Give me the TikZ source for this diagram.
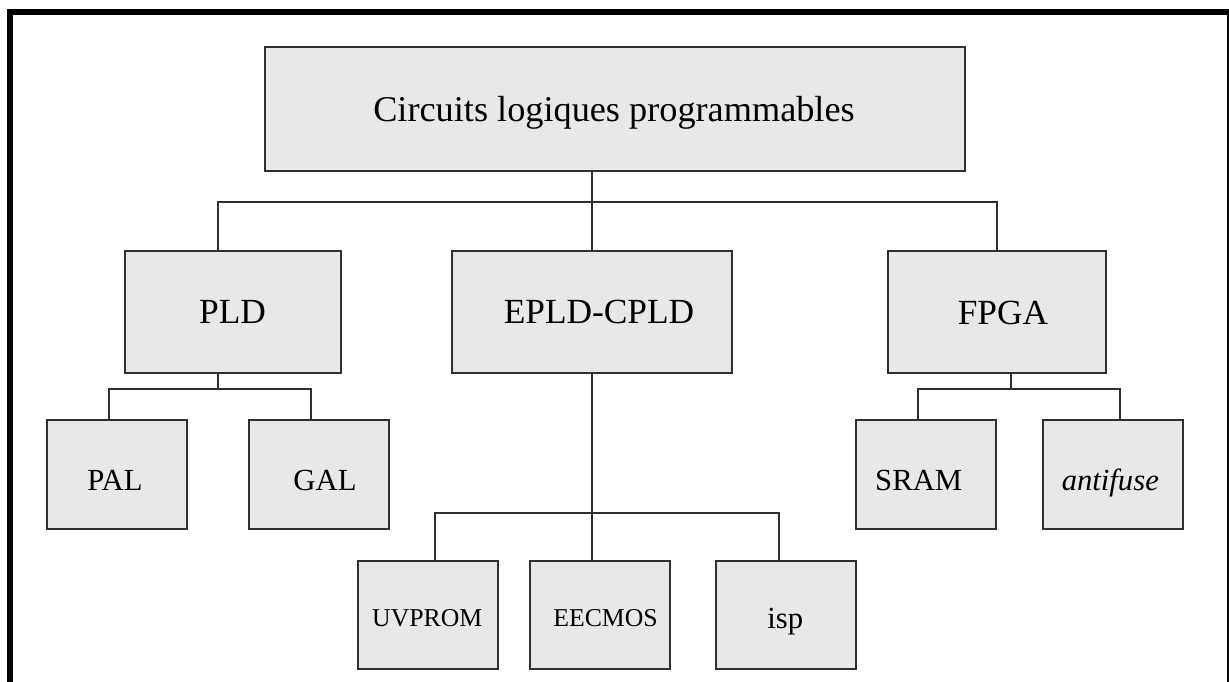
\documentclass[tikz,border=0pt]{standalone}
\usepackage{fontspec}
\setmainfont{Liberation Serif}
\usetikzlibrary{calc}
\definecolor{boxfill}{HTML}{E8E8E8}
\definecolor{edge}{HTML}{303030}
\begin{document}
\begin{tikzpicture}[x=0.75pt,y=-0.75pt,
  box/.style={draw=edge, fill=boxfill, line width=1.5pt, inner sep=0pt},
  size/.style 2 args={minimum width=#1*0.75pt, minimum height=#2*0.75pt},
  wire/.style={draw=edge, line width=1.5pt},
  toptxt/.style={inner sep=0pt, anchor=base, font=\fontsize{27.2}{31}\selectfont},
  bigtxt/.style={inner sep=0pt, anchor=base, font=\fontsize{26.5}{30}\selectfont},
  midtxt/.style={inner sep=0pt, anchor=base, font=\fontsize{23}{26}\selectfont},
  smalltxt/.style={inner sep=0pt, anchor=base, font=\fontsize{19.3}{22}\selectfont},
  frame/.style={draw=black, line width=4.5pt}]
\useasboundingbox (0,0) rectangle (1229,682);
\clip (0,0) rectangle (1229,682);

% outer frame
\draw[frame] (10,700) -- (10,12) -- (1230,12) -- (1230,700);

% boxes
\node[box, size={700}{124}] (top)  at (614.5,108.7) {};
\node[box, size={216}{122}] (pld)  at (233.3,311.7) {};
\node[box, size={280}{122}] (epld) at (591.7,311.5) {};
\node[box, size={218}{122}] (fpga) at (996.8,312) {};
\node[box, size={140}{109}] (pal)  at (116.8,474.7) {};
\node[box, size={140}{109}] (gal)  at (319.2,474.7) {};
\node[box, size={140}{109}] (sram) at (926.3,474.5) {};
\node[box, size={140}{109}] (anti) at (1113.3,474.5) {};
\node[box, size={140}{108}] (uv)   at (428,615) {};
\node[box, size={140}{108}] (eec)  at (599.7,615) {};
\node[box, size={140}{108}] (isp)  at (786.3,615) {};

% labels
\node[toptxt] (tTop)  at (614,121.5)   {Circuits logiques programmables};
\node[bigtxt] (tPld)  at (232.5,323.3) {PLD};
\node[bigtxt] (tEpld) at (599,323.3)   {EPLD-CPLD};
\node[bigtxt] (tFpga) at (1003,324)    {FPGA};
\node[midtxt] (tPal)  at (115,490)     {PAL};
\node[midtxt] (tGal)  at (325,490)     {GAL};
\node[midtxt] (tSram) at (918.7,490.5) {SRAM};
\node[midtxt] (tAnti) at (1110.3,490)  {\itshape antifuse};
\node[smalltxt] (tUv)  at (427.3,626.7) {UVPROM};
\node[smalltxt] (tEec) at (605.5,626.7) {EECMOS};
\node[midtxt] (tIsp)  at (785.3,628)   {isp};

% junctions of the connector buses
\coordinate (jTop)  at (591.7,202.3);
\coordinate (jPld)  at (218.3,389);
\coordinate (jEpld) at (591.7,513.3);
\coordinate (jFpga) at (1011.3,389);

% connectors
\draw[wire] (top.south -| jTop) -- (epld.north);
\draw[wire] ($(pld.north)+(-15,0)$) |- (jTop) -| (fpga.north);

\draw[wire] (pld.south -| jPld) -- (jPld);
\draw[wire] ($(pal.north)+(-7.5,0)$) |- (jPld) -| ($(gal.north)+(-7.9,0)$);

\draw[wire] (epld.south) -- (jEpld) -- (eec.north -| jEpld);
\draw[wire] ($(uv.north)+(7.3,0)$) |- (jEpld) -| ($(isp.north)+(-7.6,0)$);

\draw[wire] (fpga.south -| jFpga) -- (jFpga);
\draw[wire] ($(sram.north)+(-8.3,0)$) |- (jFpga) -| ($(anti.north)+(6.7,0)$);
\end{tikzpicture}
\end{document}
